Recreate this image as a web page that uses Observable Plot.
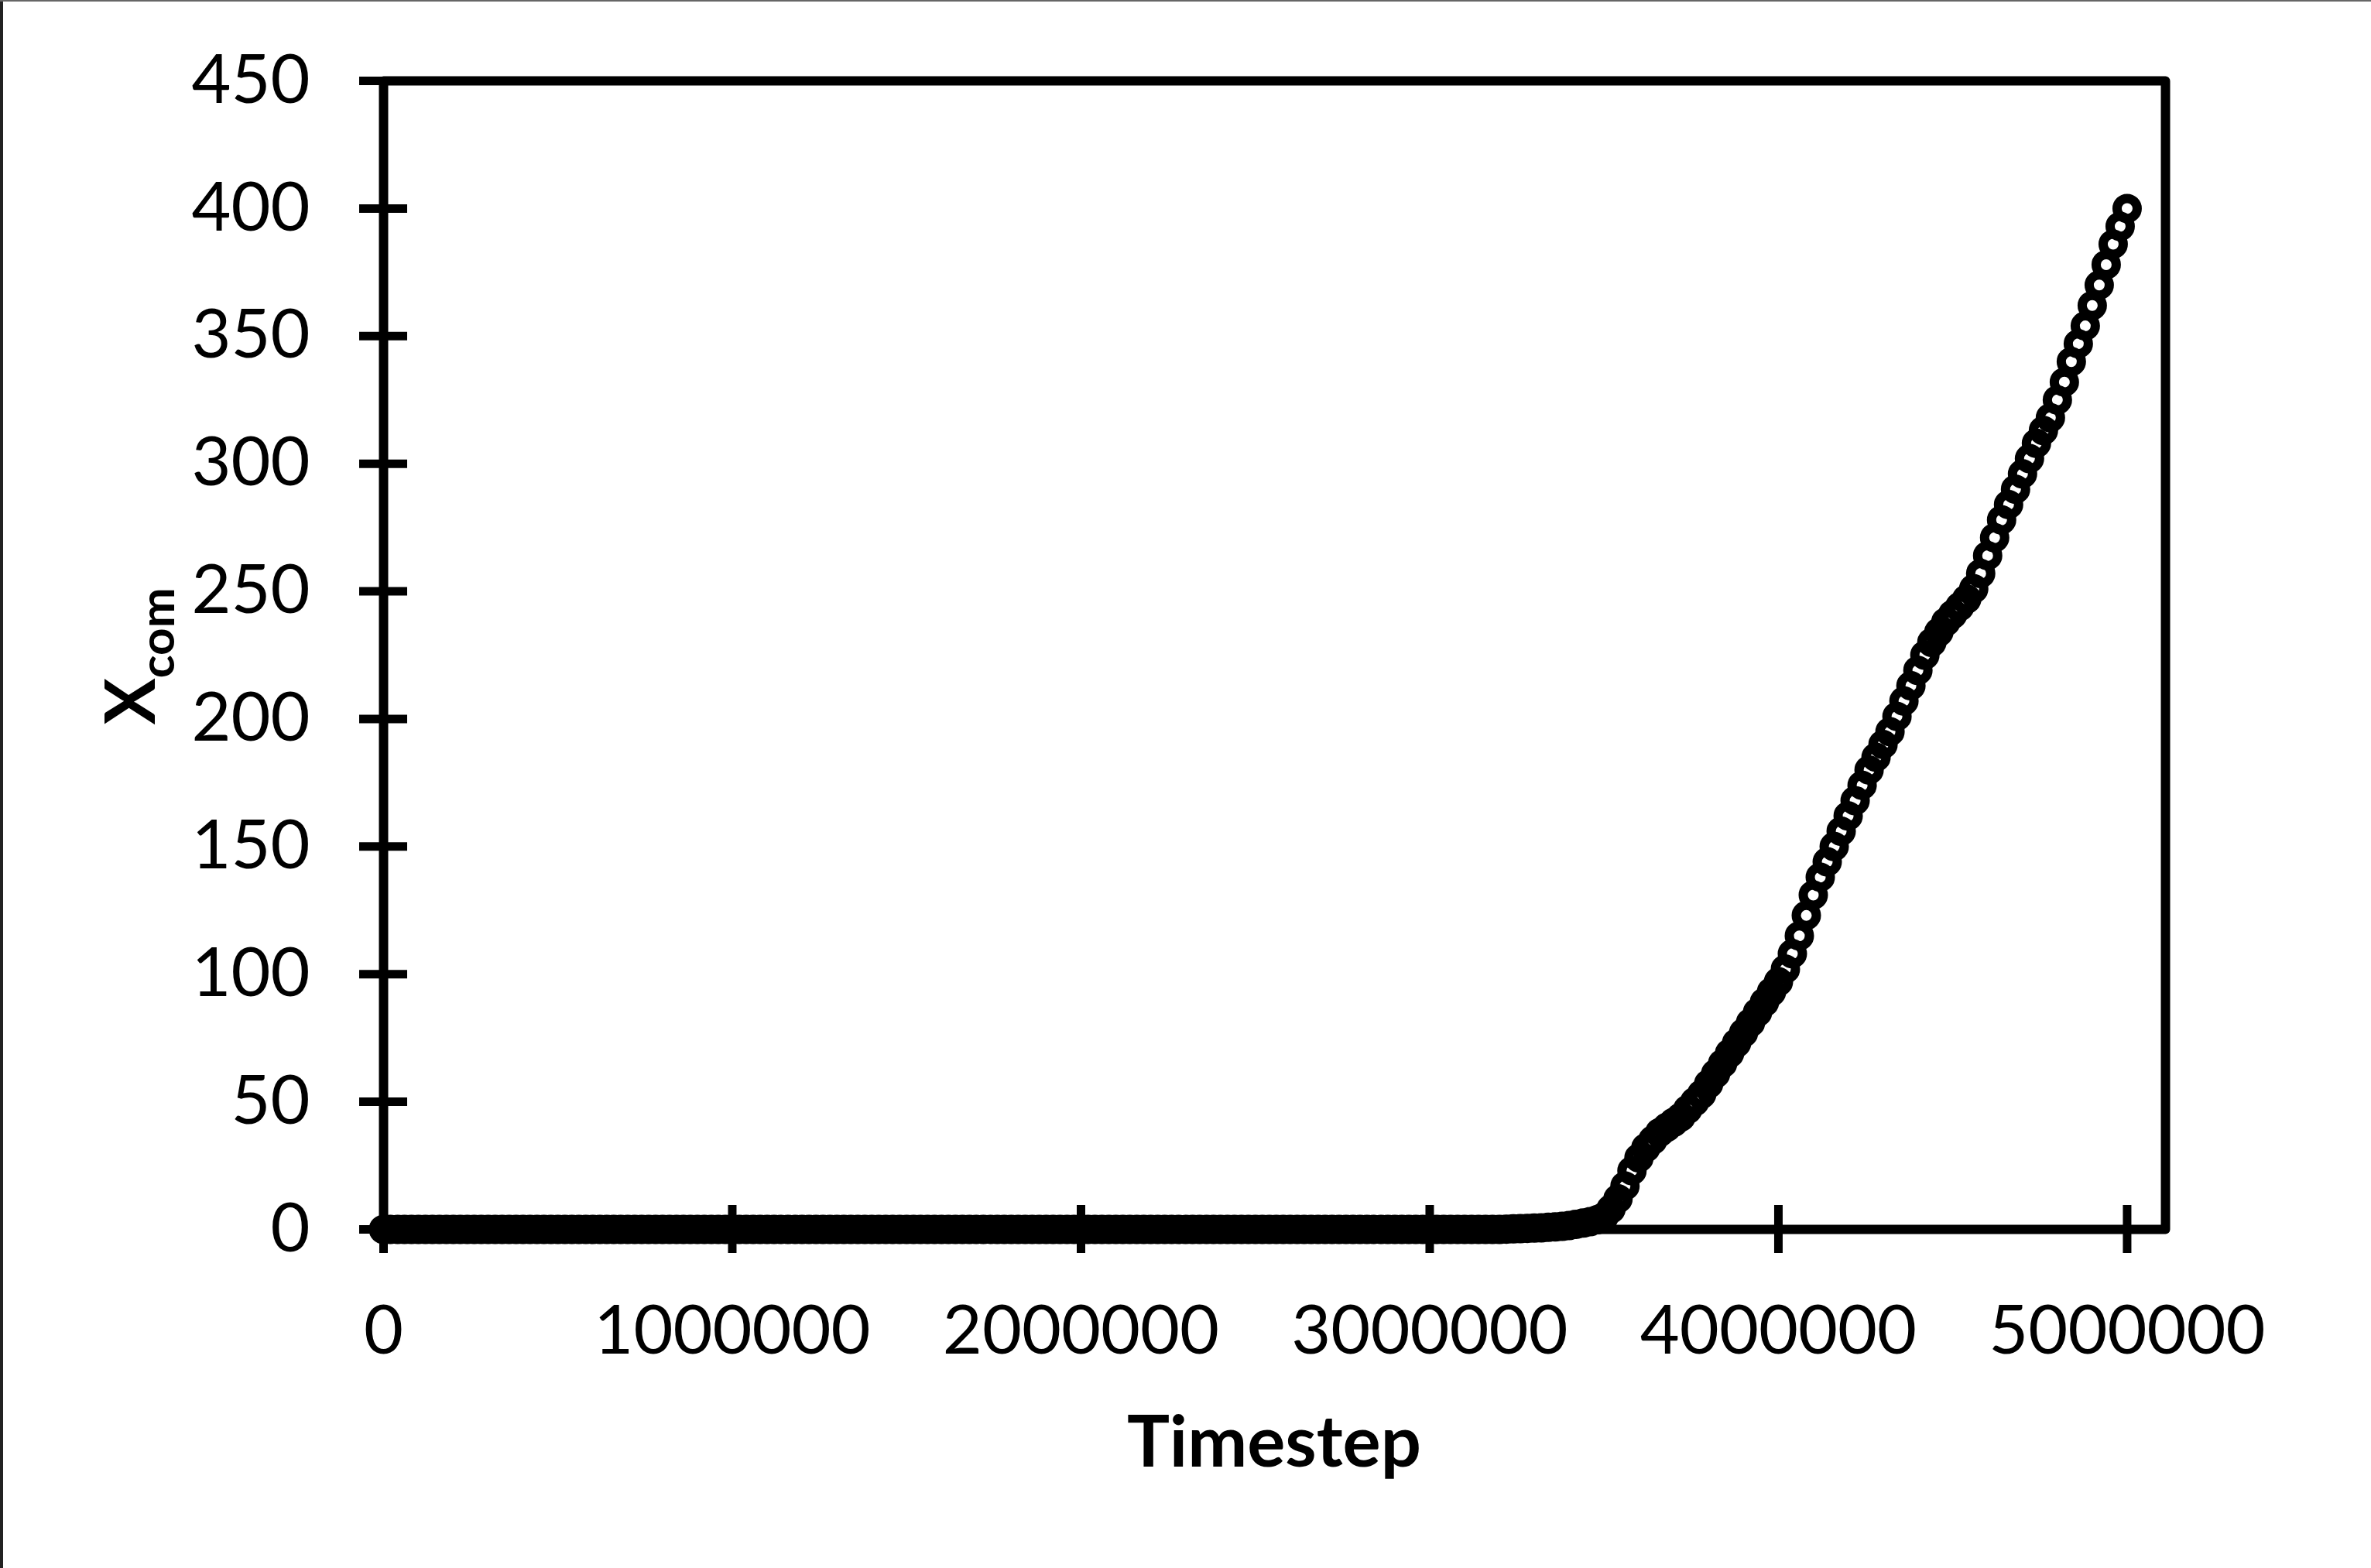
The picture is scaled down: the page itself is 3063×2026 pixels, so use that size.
<!DOCTYPE html>
<html><head><meta charset="utf-8">
<script src="https://cdn.jsdelivr.net/npm/d3@7"></script>
<script src="https://cdn.jsdelivr.net/npm/@observablehq/plot@0.6"></script>
<style>
html,body{margin:0;padding:0;background:#fff;}
#wrap{position:relative;width:3063px;height:2026px;overflow:hidden;}
#bl{position:absolute;left:0;top:0;width:4px;height:2026px;background:#222;}
#bt{position:absolute;left:0;top:0;width:3063px;height:2px;background:#666;}
</style>
</head><body><div id="wrap"><div id="chart"></div><div id="bl"></div><div id="bt"></div></div>
<script>
const timesteps = [
0,20000,40000,60000,80000,100000,120000,140000,160000,180000,
200000,220000,240000,260000,280000,300000,320000,340000,360000,380000,
400000,420000,440000,460000,480000,500000,520000,540000,560000,580000,
600000,620000,640000,660000,680000,700000,720000,740000,760000,780000,
800000,820000,840000,860000,880000,900000,920000,940000,960000,980000,
1000000,1020000,1040000,1060000,1080000,1100000,1120000,1140000,1160000,1180000,
1200000,1220000,1240000,1260000,1280000,1300000,1320000,1340000,1360000,1380000,
1400000,1420000,1440000,1460000,1480000,1500000,1520000,1540000,1560000,1580000,
1600000,1620000,1640000,1660000,1680000,1700000,1720000,1740000,1760000,1780000,
1800000,1820000,1840000,1860000,1880000,1900000,1920000,1940000,1960000,1980000,
2000000,2020000,2040000,2060000,2080000,2100000,2120000,2140000,2160000,2180000,
2200000,2220000,2240000,2260000,2280000,2300000,2320000,2340000,2360000,2380000,
2400000,2420000,2440000,2460000,2480000,2500000,2520000,2540000,2560000,2580000,
2600000,2620000,2640000,2660000,2680000,2700000,2720000,2740000,2760000,2780000,
2800000,2820000,2840000,2860000,2880000,2900000,2920000,2940000,2960000,2980000,
3000000,3020000,3040000,3060000,3080000,3100000,3120000,3140000,3160000,3180000,
3200000,3220000,3240000,3260000,3280000,3300000,3320000,3340000,3360000,3380000,
3400000,3420000,3440000,3460000,3480000,3500000,3520000,3540000,3560000,3580000,
3600000,3620000,3640000,3660000,3680000,3700000,3720000,3740000,3760000,3780000,
3800000,3820000,3840000,3860000,3880000,3900000,3920000,3940000,3960000,3980000,
4000000,4020000,4040000,4060000,4080000,4100000,4120000,4140000,4160000,4180000,
4200000,4220000,4240000,4260000,4280000,4300000,4320000,4340000,4360000,4380000,
4400000,4420000,4440000,4460000,4480000,4500000,4520000,4540000,4560000,4580000,
4600000,4620000,4640000,4660000,4680000,4700000,4720000,4740000,4760000,4780000,
4800000,4820000,4840000,4860000,4880000,4900000,4920000,4940000,4960000,4980000,
5000000
];
const xcom = [
0,0,0,0,0,0,0,0,0,0,
0,0,0,0,0,0,0,0,0,0,
0,0,0,0,0,0,0,0,0,0,
0,0,0,0,0,0,0,0,0,0,
0,0,0,0,0,0,0,0,0,0,
0,0,0,0,0,0,0,0,0,0,
0,0,0,0,0,0,0,0,0,0,
0,0,0,0,0,0,0,0,0,0,
0,0,0,0,0,0,0,0,0,0,
0,0,0,0,0,0,0,0,0,0,
0,0,0,0,0,0,0,0,0,0,
0,0,0,0,0,0,0,0,0,0,
0,0,0,0,0,0,0,0,0,0,
0,0,0,0,0,0,0,0,0,0,
0,0,0,0,0,0,0,0,0,0,
0,0,0,0,0,0,0,0,0,0,
0,0.1,0.2,0.3,0.4,0.5,0.6,0.8,1.0,1.2,
1.5,2.0,2.5,3.0,3.8,5,8,12,17,23,
28,32,35,38,40,42,44,47,50,53,
57,61,65,69,73,77,81,85,89,93,
97,102,108,115,123,131,138,144,150,156,
162,168,174,180,185,190,195,201,207,213,
219,225,230,234,238,241,244,247,251,257,
264,271,278,284,290,296,302,308,313,318,
325,332,340,347,354,362,370,378,386,393,
400
];
const xTicks = [0,1000000,2000000,3000000,4000000,5000000];
const yTicks = [0,50,100,150,200,250,300,350,400,450];
const xDomain = [0,5110000];
const yDomain = [0,450];
const xTitle = "Timestep";
const yTitleMain = "X";
const yTitleSub = "com";

const data = timesteps.map((t,i)=>({t, v: xcom[i]}));

const W = 3063, H = 2026;
const mL = 495, mR = 3063-2797, mT = 104, mB = 2026-1588;
const fw = W - mL - mR, fh = H - mT - mB;
const tickHalf = 31;
const font = "Lato, 'Open Sans', sans-serif";

const chart = Plot.plot({
  width: W, height: H,
  marginLeft: mL, marginRight: mR, marginTop: mT, marginBottom: mB,
  style: {fontFamily: font, fontSize: "88px", color: "#000", background: "#fff", overflow: "visible"},
  x: {domain: xDomain, ticks: xTicks, tickFormat: d3.format("d"), label: null},
  y: {domain: yDomain, ticks: yTicks, label: null},
  marks: [
    Plot.frame({stroke: "#000", strokeWidth: 12, strokeLinejoin: "round"}),
    Plot.ruleX(xTicks, {x: d => d, stroke: "#000", strokeWidth: 11, insetTop: fh - tickHalf, insetBottom: -tickHalf}),
    Plot.ruleY(yTicks, {y: d => d, stroke: "#000", strokeWidth: 11, insetLeft: -tickHalf, insetRight: fw - tickHalf}),
    Plot.axisX(xTicks, {tickSize: 0, tickPadding: 98, tickFormat: d3.format("d"), fontSize: 88, fill: "#000", label: null}),
    Plot.axisY(yTicks, {tickSize: 0, tickPadding: 95, fontSize: 88, fill: "#000", label: null}),
    Plot.dot(data, {x: "t", y: "v", r: 13, stroke: "#000", strokeWidth: 12, fill: "none"})
  ]
});
document.getElementById("chart").appendChild(chart);

const svg = d3.select(chart);
svg.append("text")
  .attr("x", (mL + W - mR) / 2).attr("y", 1895)
  .attr("text-anchor", "middle")
  .attr("font-family", font)
  .attr("font-weight", "bold").attr("font-size", 92).attr("fill", "#000")
  .text(xTitle);
const yt = svg.append("text")
  .attr("transform", "translate(200,848) rotate(-90)")
  .attr("text-anchor", "middle")
  .attr("font-family", font)
  .attr("font-weight", "bold").attr("font-size", 90).attr("fill", "#000");
yt.append("tspan").text(yTitleMain);
yt.append("tspan").attr("font-size", 62).attr("dy", 25).text(yTitleSub);
</script>
</body></html>
